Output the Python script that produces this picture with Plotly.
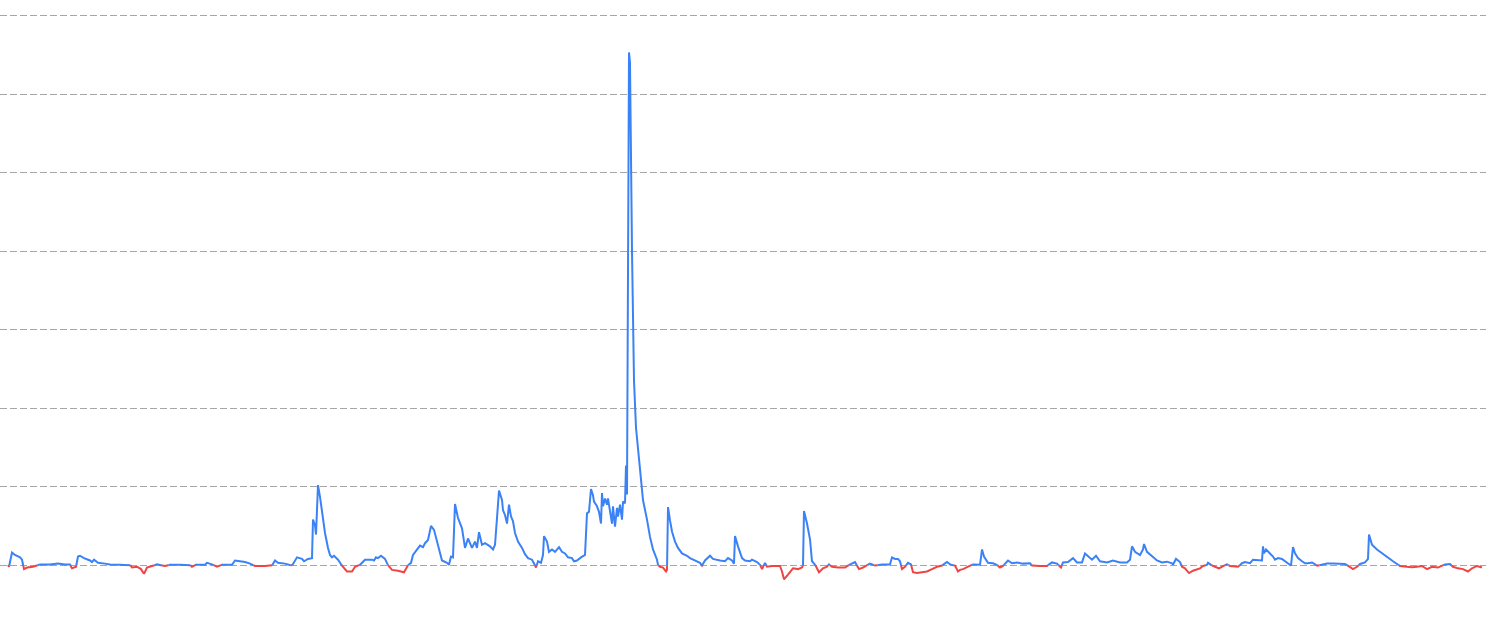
import plotly.graph_objects as go

# Time index (days from start) and series value
days = [0, 1, 4, 7, 12, 14, 16, 19, 25, 32, 42, 50, 57, 62, 64, 68, 70, 72, 76, 82, 84, 86, 90, 97, 102, 112, 122, 124, 129, 133, 136, 139, 144, 149, 157, 162, 172, 182, 184, 188, 197, 199, 204, 209, 214, 224, 227, 232, 237, 242,
        247, 257, 264, 267, 270, 277, 284, 287, 289, 294, 296, 300, 304, 305, 307, 308, 310, 312, 314, 317, 320, 322, 324, 326, 330, 334, 339, 344, 347, 352, 357, 364, 366, 368, 370, 373, 377, 380, 384, 390, 396, 400, 403, 405, 409, 412, 415, 417, 420, 423, 426, 430, 434, 439, 441, 443, 445, 447, 450, 454, 457, 460, 464, 467, 469, 471, 474, 477, 482, 485, 487,
        489, 491, 494, 495, 497, 499, 501, 503, 505, 507, 510, 514, 517, 520, 524, 526, 528, 530, 533, 535, 536, 539, 541, 544, 547, 551, 554, 557, 560, 564, 566, 569, 573, 577, 579, 581, 583, 585, 586, 589, 591, 593, 594, 595, 597, 599, 600, 602, 604, 605, 607, 609, 610, 612, 614, 615, 617, 618, 619, 621, 622, 624, 626, 628, 630, 633, 635, 639, 642, 645, 649, 650, 652, 655, 658, 659, 660, 662, 664, 667, 670, 674, 679, 682, 687, 692, 694, 697, 702, 705, 712, 717, 720, 724, 726, 727,
        730, 734, 737, 742, 744, 749, 752, 754, 757, 759, 764, 772, 774, 776, 780, 785, 790, 794, 795, 796, 799, 802, 804, 807, 811, 815, 819, 821, 824, 830, 837, 840, 847, 851, 855, 862, 867, 874, 882, 884, 887, 890, 892, 894, 897, 900, 903, 905, 909, 914, 919, 924, 929, 934, 939, 942, 947, 950, 952, 955, 960, 965, 972,
        974, 976, 980, 985, 989, 992, 995, 1000, 1004, 1009, 1015, 1022, 1024, 1032, 1039, 1044, 1049, 1053, 1055, 1060, 1065, 1069, 1074, 1077, 1080, 1084, 1088, 1092, 1099, 1105, 1112, 1119, 1122, 1124, 1127, 1132, 1135, 1136, 1139, 1144, 1149, 1154, 1159, 1164, 1165, 1168, 1172, 1174, 1177, 1181, 1185, 1192, 1195, 1199, 1200, 1204, 1207, 1211, 1215, 1219,
        1222, 1230, 1234, 1237, 1242, 1245, 1250, 1254, 1255, 1256, 1258, 1262, 1265, 1267, 1270, 1274, 1277, 1280, 1283, 1285, 1287, 1290, 1294, 1297, 1300, 1304, 1309, 1314, 1319, 1325, 1332, 1337, 1342, 1345, 1349, 1352, 1357, 1360, 1361, 1364, 1369, 1374, 1380, 1385, 1389, 1392, 1399, 1404, 1409, 1414, 1419, 1424, 1430, 1437, 1442, 1445, 1450, 1455, 1460, 1464, 1469, 1474]

values = [0.0, -0.02, 0.16, 0.13, 0.10, 0.07, -0.05, -0.03, -0.02, 0.01, 0.01, 0.02, 0.01, 0.01, -0.04, -0.02, 0.11, 0.12, 0.09, 0.06, 0.04, 0.07, 0.03, 0.02, 0.01, 0.005, 0.005, -0.03, -0.02, -0.05, -0.11, -0.03, -0.01, 0.01, -0.01, 0.005, 0.005, 0.005, -0.02, 0.005, 0.005, 0.03, 0.01, -0.02, 0.005, 0.005, 0.06, 0.05, 0.04, 0.02,
          -0.01, -0.01, -0.005, 0.06, 0.03, 0.02, -0.005, 0.05, 0.10, 0.08, 0.05, 0.08, 0.09, 0.58, 0.51, 0.39, 1.02, 0.87, 0.66, 0.41, 0.22, 0.13, 0.10, 0.12, 0.07, -0.005, -0.08, -0.08, -0.02, 0.005, 0.07, 0.07, 0.06, 0.10, 0.09, 0.12, 0.08, 0.0, -0.06, -0.07, -0.09, 0.0, 0.03, 0.13, 0.20, 0.25, 0.23, 0.28, 0.32, 0.50, 0.45, 0.24, 0.06, 0.03, 0.005, 0.11, 0.10, 0.78, 0.60, 0.47, 0.22, 0.34, 0.22, 0.30, 0.22, 0.42, 0.26, 0.28, 0.24, 0.20, 0.26,
          0.60, 0.95, 0.83, 0.70, 0.64, 0.53, 0.77, 0.62, 0.56, 0.41, 0.30, 0.22, 0.14, 0.09, 0.07, 0.03, -0.03, 0.05, 0.03, 0.13, 0.37, 0.30, 0.17, 0.20, 0.17, 0.23, 0.17, 0.15, 0.10, 0.09, 0.05, 0.06, 0.10, 0.13, 0.66, 0.68, 0.97, 0.89, 0.81, 0.75, 0.68, 0.53, 0.92, 0.75, 0.85, 0.77, 0.85, 0.66, 0.53, 0.75, 0.49, 0.73, 0.62, 0.77, 0.58, 0.81, 0.79, 1.27, 0.90, 6.53, 6.40, 4.00, 2.35, 1.75, 1.46, 1.08, 0.83, 0.58, 0.36, 0.20, 0.07, 0.005, -0.02, -0.03, -0.08, -0.06, 0.74, 0.57, 0.43, 0.30, 0.22, 0.15, 0.12, 0.09, 0.06, 0.03, -0.005, 0.06, 0.12, 0.08, 0.06, 0.05, 0.09,
          0.06, 0.02, 0.37, 0.24, 0.09, 0.06, 0.05, 0.07, 0.04, 0.005, -0.05, 0.03, -0.02, -0.01, -0.01, -0.08, -0.18, -0.12, -0.04, -0.05, -0.03, -0.005, 0.69, 0.53, 0.33, 0.05, 0.01, -0.09, -0.04, -0.02, 0.01, -0.02, -0.03, -0.03, -0.005, 0.04, -0.05, -0.03, 0.02, -0.005, 0.01, 0.01, 0.10, 0.08, 0.08, 0.05, -0.05, -0.02, 0.03, 0.01, -0.09, -0.10, -0.09, -0.08, -0.05, -0.02, -0.005, 0.04, 0.01, -0.005, -0.08, -0.06, -0.05, -0.02, 0.01, 0.005,
          0.20, 0.11, 0.03, 0.025, 0.005, -0.03, -0.01, 0.06, 0.025, 0.035, 0.02, 0.025, -0.005, -0.01, -0.01, 0.035, 0.02, -0.03, 0.035, 0.04, 0.09, 0.035, 0.035, 0.15, 0.11, 0.07, 0.12, 0.05, 0.035, 0.06, 0.035, 0.035, 0.07, 0.24, 0.17, 0.13, 0.20, 0.27, 0.17, 0.11, 0.06, 0.035, 0.045, 0.025, 0.005, 0.08, 0.04, -0.02, -0.04, -0.10, -0.07, -0.04, -0.01, 0.005, 0.03, -0.005, -0.02, -0.04, -0.01, 0.01,
          -0.01, -0.02, 0.025, 0.04, 0.025, 0.07, 0.06, 0.06, 0.24, 0.15, 0.20, 0.15, 0.11, 0.07, 0.09, 0.08, 0.05, 0.025, -0.005, 0.23, 0.15, 0.09, 0.05, 0.025, 0.025, 0.035, -0.005, 0.005, 0.02, 0.02, 0.02, 0.015, -0.02, -0.05, -0.02, 0.015, 0.035, 0.08, 0.39, 0.26, 0.20, 0.15, 0.09, 0.05, 0.015, -0.01, -0.02, -0.025, -0.02, -0.01, -0.05, -0.02, -0.03, 0.01, 0.015, -0.02, -0.04, -0.05, -0.08, -0.04, -0.01, -0.03]

assert len(days) == len(values), (len(days), len(values))

POS_COLOR = "#3b82f6"
NEG_COLOR = "#ef4444"

# insert zero crossings so each colour stops exactly at the zero line
px, py = [], []
for i in range(len(days)):
    if i > 0:
        x0, y0, x1, y1 = days[i - 1], values[i - 1], days[i], values[i]
        if (y0 > 0 and y1 < 0) or (y0 < 0 and y1 > 0):
            px.append(x0 + (x1 - x0) * y0 / (y0 - y1))
            py.append(0.0)
    px.append(days[i])
    py.append(values[i])

pos_y = [v if v >= 0 else None for v in py]
neg_y = [v if v <= 0 else None for v in py]

fig = go.Figure()
fig.add_trace(go.Scatter(x=px, y=pos_y, mode="lines", line=dict(color=POS_COLOR, width=2),
                         connectgaps=False, showlegend=False, hoverinfo="skip"))
fig.add_trace(go.Scatter(x=px, y=neg_y, mode="lines", line=dict(color=NEG_COLOR, width=2),
                         connectgaps=False, showlegend=False, hoverinfo="skip"))

fig.update_layout(
    width=1490, height=633,
    margin=dict(l=0, r=4, t=14, b=5),
    paper_bgcolor="white", plot_bgcolor="white",
    xaxis=dict(range=[-8, 1478], showgrid=False, zeroline=False, showticklabels=False,
               showline=False, ticks=""),
    yaxis=dict(range=[-0.8, 7.02], dtick=1, tick0=0, showgrid=True, gridcolor="#a6a6a6",
               gridwidth=1, griddash="7px,3px", zeroline=False, showticklabels=False,
               showline=False, ticks=""),
)

fig.write_html("out.html", config={"displayModeBar": False},
               post_script="document.body.style.margin='0';")
